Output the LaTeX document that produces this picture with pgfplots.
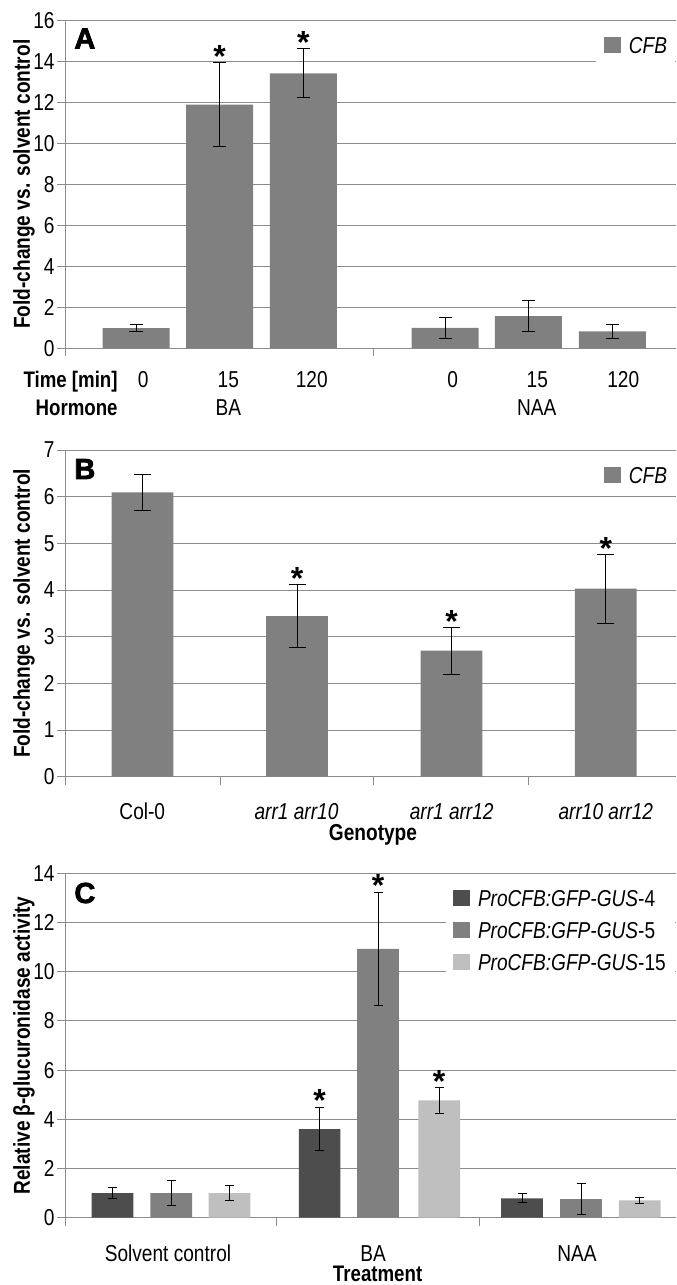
\documentclass[border=0pt]{standalone}
\usepackage{fontspec}
\setmainfont{Liberation Sans}[FakeStretch=0.83]
\newfontfamily\blackfont{Liberation Sans Bold}[FakeBold=2.5]
\newfontfamily\starfont{Liberation Sans Bold}
\usepackage{pgfplots}
\pgfplotsset{compat=1.18}

\definecolor{gridc}{RGB}{140,140,140}
\definecolor{barg}{RGB}{128,128,128}
\definecolor{bard}{RGB}{77,77,77}
\definecolor{barl}{RGB}{191,191,191}

\pgfplotsset{
  panel/.style={
    scale only axis, width=305.5pt, xmin=65, xmax=676, ymin=0,
    axis x line*=bottom, axis y line*=left,
    axis line style={gridc, line width=0.5pt},
    tick align=outside, major tick length=4pt,
    tick style={gridc, line width=0.5pt},
    ymajorgrids, grid style={gridc, line width=0.5pt},
    xticklabels={,,,,,},
    yticklabel style={font=\fontsize{11.5}{13}\selectfont, inner xsep=1pt},
    /pgf/number format/assume math mode=true,
    ylabel style={font=\bfseries\fontsize{11.5}{13}\selectfont,
      at={(axis description cs:-0.0671,0.5)}, anchor=center},
    clip=false,
    legend cell align=left,
    legend style={at={(1,1)}, anchor=north east, xshift=-0.5pt, yshift=-5.2pt,
      draw=none, fill=white, inner xsep=3.8pt, inner ysep=3pt,
      font=\fontsize{11.5}{13}\selectfont, row sep=5.15pt,
      nodes={inner sep=0pt, text height=8.3pt, text depth=2.4pt}},
  },
  sq/.style={legend image code/.code={\fill[#1] (0pt,-2.8pt) rectangle (8.3pt,5.2pt);
    \path (12.45pt,0pt);}},
  eb/.style={error bars/.cd, y dir=both, y explicit,
    error bar style={black, line width=0.5pt},
    error mark options={rotate=90, mark size=#1, black, line width=0.5pt}},
  stars/.style={forget plot, black, only marks, mark=text, text mark={*},
    text mark as node=true,
    text mark style={font=\starfont\fontsize{16}{16}\selectfont, anchor=base,
      yshift=-2.5pt, inner sep=0pt}},
}

\begin{document}
\begin{tikzpicture}
\useasboundingbox (0,0) rectangle (338pt,-642.5pt);

% ---------- A ----------
\begin{axis}[panel, at={(32.5pt,-174.15pt)}, anchor=south west, height=164pt,
  ymax=16, ytick={0,2,...,16}, xtick={65,373.3},
  ylabel={Fold-change vs. solvent control}]
\addplot[ybar, bar shift=0pt, bar width=67, fill=barg, draw=none, sq=barg, eb=3.25pt]
coordinates {
  (136,0.98)   +- (0,0.16)
  (219.7,11.89) +- (0,2.06)
  (303.3,13.41) +- (0,1.20)
  (445,1.00)   +- (0,0.51)
  (528.3,1.57) +- (0,0.75)
  (612.3,0.83) +- (0,0.35)
};
\addlegendentry{\textit{CFB}}
\addplot[stars] coordinates {(219.7,13.95) (303.3,14.61)};
\end{axis}

% ---------- B ----------
\begin{axis}[panel, at={(32.5pt,-388.35pt)}, anchor=south west, height=163.35pt,
  ymax=7, ytick={0,...,7}, xtick={65,220,373.3,528.3},
  ylabel={Fold-change vs. solvent control}]
\addplot[ybar, bar shift=0pt, bar width=61.7, fill=barg, draw=none, sq=barg, eb=4.25pt]
coordinates {
  (142.5,6.09) +- (0,0.39)
  (297,3.44)   +- (0,0.68)
  (451.5,2.70) +- (0,0.50)
  (605.8,4.03) +- (0,0.74)
};
\addlegendentry{\textit{CFB}}
\addplot[stars] coordinates {(297,4.12) (451.5,3.20) (605.8,4.77)};
\end{axis}

% ---------- C ----------
\begin{axis}[panel, at={(32.5pt,-608.85pt)}, anchor=south west, height=172.2pt,
  ymax=14, ytick={0,2,...,14}, xtick={65,276,479},
  ylabel={Relative β-glucuronidase activity}]
\addplot[ybar, bar shift=0pt, bar width=41.7, fill=bard, draw=none, sq=bard, eb=2.25pt]
coordinates {
  (112.5,1.00) +- (0,0.23)
  (319.6,3.60) +- (0,0.88)
  (522,0.79)   +- (0,0.18)
};
\addlegendentry{\makebox[94.5pt][l]{\textit{ProCFB:GFP-GUS}-4}}
\addplot[ybar, bar shift=0pt, bar width=41.7, fill=barg, draw=none, sq=barg, eb=2.25pt]
coordinates {
  (171.2,1.00) +- (0,0.50)
  (378,10.93)  +- (0,2.30)
  (581,0.76)   +- (0,0.62)
};
\addlegendentry{\makebox[94.5pt][l]{\textit{ProCFB:GFP-GUS}-5}}
\addplot[ybar, bar shift=0pt, bar width=41.7, fill=barl, draw=none, sq=barl, eb=2.25pt]
coordinates {
  (229.5,1.00) +- (0,0.30)
  (439.2,4.77) +- (0,0.52)
  (639.7,0.70) +- (0,0.11)
};
\addlegendentry{\makebox[94.5pt][l]{\textit{ProCFB:GFP-GUS}-15}}
\addplot[stars] coordinates {(319.6,4.52) (378,13.25) (439.2,5.29)};
\end{axis}

% ---------- labels ----------
\begin{scope}[every node/.style={inner sep=0pt}]
\node[font=\blackfont\fontsize{14.5}{15}\selectfont, anchor=west] at (37pt,-19.25pt) {A};
\node[font=\blackfont\fontsize{14.5}{15}\selectfont, anchor=west] at (37pt,-234.5pt) {B};
\node[font=\blackfont\fontsize{14.5}{15}\selectfont, anchor=west] at (37pt,-446.5pt) {C};

\node[font=\bfseries\fontsize{11.25}{13}\selectfont, anchor=base east] at (59pt,-193.65pt) {Time [min]};
\node[font=\bfseries\fontsize{11.25}{13}\selectfont, anchor=base east] at (59pt,-207.5pt) {Hormone};
\begin{scope}[every node/.append style={font=\fontsize{11.5}{13}\selectfont, anchor=base}]
\node at (71.65pt,-193.65pt) {0};
\node at (114.15pt,-193.65pt) {15};
\node at (155.85pt,-193.65pt) {120};
\node at (226.35pt,-193.65pt) {0};
\node at (268.65pt,-193.65pt) {15};
\node at (311.65pt,-193.65pt) {120};
\node at (114.15pt,-207.5pt) {BA};
\node at (268.35pt,-207.5pt) {NAA};

\node at (71.15pt,-409.6pt) {Col-0};
\node at (148.25pt,-409.6pt) {\textit{arr1 arr10}};
\node at (225.85pt,-409.6pt) {\textit{arr1 arr12}};
\node at (302.9pt,-409.6pt) {\textit{arr10 arr12}};

\node at (84pt,-630.5pt) {Solvent control};
\node at (186.5pt,-630.5pt) {BA};
\node at (288.5pt,-630.5pt) {NAA};
\end{scope}
\node[font=\bfseries\fontsize{11.5}{13}\selectfont, anchor=base] at (186.5pt,-420pt) {Genotype};
\node[font=\bfseries\fontsize{11.25}{13}\selectfont, anchor=base] at (188.8pt,-640.9pt) {Treatment};
\end{scope}
\end{tikzpicture}
\end{document}
